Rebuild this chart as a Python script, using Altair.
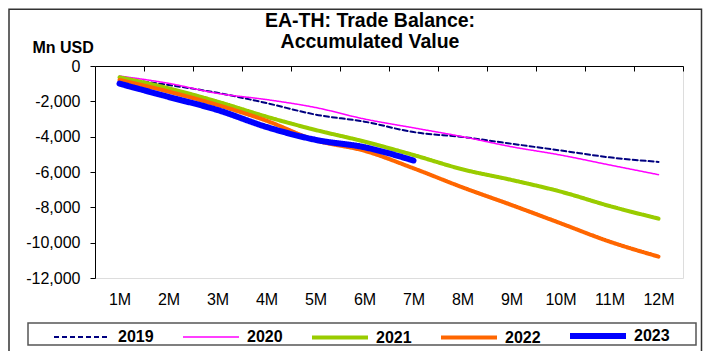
import altair as alt
import pandas as pd

months = list(range(1, 13))
month_labels = ["1M", "2M", "3M", "4M", "5M", "6M", "7M", "8M", "9M", "10M", "11M", "12M"]
years = ["2019", "2020", "2021", "2022", "2023"]
y2019 = [-700, -1075, -1520, -2100, -2750, -3150, -3740, -4020, -4400, -4780, -5170, -5430]
y2020 = [-570, -980, -1550, -1900, -2350, -3000, -3500, -4000, -4570, -5040, -5600, -6150]
y2021 = [-640, -1260, -2020, -2870, -3620, -4280, -5040, -5850, -6450, -7110, -7925, -8640]
y2022 = [-790, -1450, -2210, -3100, -4200, -4800, -5790, -6870, -7870, -8900, -9940, -10790]
y2023 = [-1000, -1750, -2490, -3450, -4180, -4600, -5350]
y_ticks = [0, -2000, -4000, -6000, -8000, -10000, -12000]

colors = ["#000080", "#FF00FF", "#99CC00", "#FF6600", "#0000FF"]
widths = [2, 1.5, 4, 4, 6]
dashes = [[5, 3], [1, 0], [1, 0], [1, 0], [1, 0]]

rows = []
for yr, vals in zip(years, [y2019, y2020, y2021, y2022, y2023]):
    for m, v in zip(months, vals):
        rows.append({"month": m, "value": v, "year": yr})
df = pd.DataFrame(rows)

FONT = "Liberation Sans"
W, H = 588, 212

xscale = alt.Scale(domain=[0.5, 12.5], nice=False, zero=False)
yscale = alt.Scale(domain=[-12000, 0], nice=False, zero=False)

leg = alt.Legend(
    title=None, orient="none", legendX=-44, legendY=239, direction="horizontal",
    columns=5, gridAlign="all",
    symbolType="stroke", symbolSize=3136, labelFont=FONT, labelFontSize=16,
    labelFontWeight="bold", labelColor="black", labelOffset=5, columnPadding=17,
    padding=0,
)

lines = alt.Chart(df).mark_line(
    interpolate="monotone", strokeCap="round", strokeJoin="round"
).encode(
    x=alt.X("month:Q", scale=xscale, axis=alt.Axis(
        orient="bottom", offset=-H, values=[m + 0.5 for m in months], labels=False,
        ticks=True, tickSize=5, tickColor="black", domain=True, domainColor="black",
        grid=False, title=None)),
    y=alt.Y("value:Q", scale=yscale, axis=alt.Axis(
        values=y_ticks,
        labelExpr="(datum.value < 0 ? '-' : '') + format(abs(datum.value), ',.0f')",
        grid=False, tickSize=5, tickColor="black",
        domainColor="black", labelColor="black", labelFont=FONT, labelFontSize=16,
        labelPadding=10, title="Mn USD", titleAngle=0, titleAlign="left",
        titleBaseline="alphabetic", titleX=-63, titleY=-14, titleFont=FONT,
        titleFontSize=16, titleFontWeight="bold", titleColor="black")),
    color=alt.Color("year:N", scale=alt.Scale(domain=years, range=colors), legend=leg),
    strokeDash=alt.StrokeDash("year:N", scale=alt.Scale(domain=years, range=dashes), legend=leg),
    strokeWidth=alt.StrokeWidth("year:N", scale=alt.Scale(type="ordinal", domain=years, range=widths), legend=leg),
)

xlabels = alt.Chart(pd.DataFrame({"month": months, "label": month_labels})).mark_point(opacity=0).encode(
    x=alt.X("month:Q", scale=xscale, axis=alt.Axis(
        orient="bottom", values=months, labelExpr="datum.value + 'M'", domain=False,
        ticks=False, labelPadding=13, labelFont=FONT, labelFontSize=16,
        labelColor="black", grid=False, title=None)),
    y=alt.value(0),
)

one = pd.DataFrame({"k": [0]})
frame = alt.Chart(one).mark_rect(filled=False, stroke="#333333", strokeWidth=1.5).encode(
    x=alt.value(-86), x2=alt.value(606.5), y=alt.value(-56.75), y2=alt.value(400))
legbox = alt.Chart(one).mark_rect(filled=False, stroke="#555555", strokeWidth=1.5).encode(
    x=alt.value(-67), x2=alt.value(601), y=alt.value(257), y2=alt.value(279))

chart = alt.layer(frame, legbox, xlabels, lines).resolve_axis(x="independent").properties(
    width=W, height=H,
    title=alt.TitleParams(["EA-TH: Trade Balance:", "Accumulated Value"], font=FONT,
                          fontSize=19.5, fontWeight="bold", color="black", anchor="middle",
                          dx=-19, dy=44, lineHeight=21, offset=0),
    autosize=alt.AutoSizeParams(type="none"),
    padding={"left": 87, "top": 58, "right": 20, "bottom": 73},
).configure_view(stroke=None).configure(background="white")

chart.save("out.html", embed_options={"renderer": "svg", "actions": False})
